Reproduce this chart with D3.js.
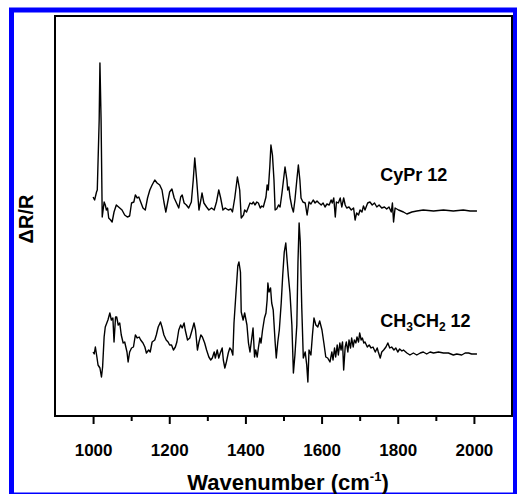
<!DOCTYPE html>
<html>
<head>
<meta charset="utf-8">
<script src="https://cdn.jsdelivr.net/npm/d3@7"></script>
<style>
  body { margin: 0; background: #fff; }
  text { font-family: Arial, "Liberation Sans", sans-serif; font-weight: bold; }
</style>
</head>
<body>
<div id="vis"></div>
<script>
// CyPr 12 trace (wavenumber in cm-1, signal in arbitrary offset units)
var cyprWn = [1000,1004,1009,1011,1016,1018,1021,1024,1029,1032,1035,1038,1041,1046,1050,1055,1061,1070,1076,1083,
  1090,1096,1101,1107,1111,1116,1120,1125,1131,1137,1143,1149,1155,1162,1168,1175,1181,1186,1191,1197,
  1201,1207,1213,1219,1225,1230,1234,1239,1245,1251,1258,1263,1267,1272,1278,1283,1286,1291,1298,1304,
  1311,1318,1324,1330,1335,1341,1347,1355,1362,1366,1372,1379,1385,1389,1395,1398,1403,1408,1412,1417,
  1421,1425,1430,1434,1439,1443,1447,1454,1457,1460,1464,1467,1471,1475,1478,1482,1487,1491,1496,1500,
  1504,1509,1511,1514,1517,1522,1526,1530,1535,1539,1543,1546,1551,1557,1562,1567,1572,1578,1583,1588,
  1593,1599,1604,1609,1614,1620,1625,1628,1632,1636,1639,1644,1649,1653,1658,1662,1666,1672,1678,1684,
  1688,1692,1697,1701,1706,1710,1714,1721,1727,1733,1739,1745,1751,1758,1765,1771,1777,1783,1786,1789,
  1793,1802,1815,1824,1837,1850,1867,1894,1920,1946,1972,1990,2008];
var cyprSig = [21.9,21.6,22.4,22.6,29.6,35.3,29.6,19.9,21.4,21.1,20.6,20.8,19.8,19.6,19.4,20.4,21.1,20.8,20.6,20.1,
  19.9,20.0,21.3,21.4,22.1,21.8,21.9,21.4,20.8,20.6,21.8,22.6,23.1,23.6,23.3,23.1,22.6,21.4,20.4,21.6,
  22.4,22.7,21.8,21.3,20.8,21.9,22.1,21.3,21.1,20.8,21.4,23.6,25.8,23.6,20.6,21.6,22.3,21.3,20.9,20.6,
  20.8,20.6,21.4,22.6,21.8,20.6,20.8,20.6,20.7,20.4,21.8,23.9,22.6,19.8,20.1,20.6,20.4,20.9,21.3,21.2,
  21.4,21.1,21.4,21.3,20.8,21.0,20.9,21.9,23.1,22.6,24.9,27.1,26.1,23.6,20.6,20.7,21.1,20.9,22.3,23.6,
  24.9,23.6,22.6,22.9,21.9,20.9,20.4,21.6,23.6,25.1,23.6,21.8,21.4,21.3,20.1,21.4,21.2,21.6,21.3,21.5,
  21.3,21.1,21.3,20.9,21.2,21.1,21.6,21.3,21.8,19.9,21.4,21.3,21.8,20.9,21.8,21.1,20.8,20.9,20.6,20.8,
  19.6,20.3,20.1,20.6,20.4,21.0,20.6,21.3,21.4,21.1,21.3,20.9,21.1,20.8,20.9,20.7,20.9,20.4,21.3,19.4,
  20.8,20.6,20.4,20.2,20.4,20.5,20.6,20.5,20.6,20.5,20.6,20.5,20.5];

// CH3CH2 12 trace
var ethWn = [1000,1003,1006,1010,1013,1018,1022,1025,1029,1032,1036,1039,1044,1048,1052,1055,1059,1062,1066,1070,
  1074,1079,1083,1089,1092,1096,1101,1106,1111,1116,1121,1125,1131,1136,1140,1146,1150,1155,1162,1166,
  1171,1177,1181,1186,1192,1197,1201,1206,1211,1216,1220,1225,1230,1234,1239,1242,1248,1254,1260,1265,
  1269,1274,1278,1283,1287,1293,1298,1304,1309,1313,1318,1321,1326,1330,1334,1339,1342,1346,1350,1355,
  1359,1363,1367,1370,1374,1377,1380,1383,1387,1389,1394,1398,1404,1408,1412,1417,1420,1424,1427,1431,
  1434,1438,1441,1445,1450,1454,1457,1459,1462,1466,1469,1473,1478,1481,1485,1489,1494,1498,1502,1506,
  1509,1513,1517,1522,1526,1530,1535,1538,1541,1544,1548,1552,1557,1561,1564,1567,1572,1576,1580,1585,
  1590,1595,1601,1606,1611,1616,1622,1627,1630,1634,1637,1641,1644,1648,1651,1655,1658,1662,1665,1669,
  1672,1676,1679,1683,1686,1690,1693,1697,1700,1704,1707,1711,1714,1720,1725,1730,1735,1741,1746,1749,
  1754,1758,1763,1769,1774,1779,1784,1790,1795,1800,1805,1811,1815,1824,1832,1841,1850,1859,1867,1876,
  1885,1894,1907,1920,1933,1946,1955,1968,1977,1986,1994,2008];
var ethSig = [6.4,6.2,6.9,5.9,5.1,4.8,3.9,4.9,7.9,8.9,9.3,9.6,10.3,9.6,9.8,7.4,9.9,9.9,9.1,9.3,
  8.1,7.3,7.4,6.4,5.4,6.4,6.8,6.9,8.1,7.8,7.9,7.6,7.3,6.9,6.3,6.6,6.4,7.4,7.6,8.1,
  8.9,9.4,8.9,8.1,7.6,7.4,7.1,7.1,6.6,6.9,7.4,8.6,9.1,8.8,9.3,8.6,7.6,7.8,8.6,9.3,
  8.6,6.6,7.4,8.1,7.9,7.3,6.6,5.9,5.6,5.8,6.4,5.8,6.6,5.8,6.3,6.8,5.6,4.8,5.4,6.3,
  6.8,6.6,6.1,9.3,11.6,13.3,15.0,15.4,14.4,10.4,9.6,10.3,9.1,7.3,6.4,7.9,8.8,5.9,6.6,5.9,
  6.8,7.8,7.3,8.6,9.8,10.3,11.6,13.3,12.4,12.8,11.3,10.6,7.4,5.8,7.4,8.6,11.3,14.1,16.4,17.3,
  15.8,13.9,12.3,9.1,4.3,6.1,9.1,15.4,19.3,17.4,10.8,5.8,6.4,5.1,3.4,6.6,6.1,8.1,9.8,9.1,
  8.9,9.5,8.6,7.3,5.9,5.8,5.4,6.4,5.6,6.8,5.9,7.1,6.1,7.3,6.6,7.4,4.6,6.9,7.4,6.4,
  7.6,6.8,7.8,6.9,7.6,7.3,7.9,7.4,8.3,7.6,7.8,7.3,7.4,6.9,7.1,6.8,6.9,6.4,6.8,6.4,
  5.8,6.4,6.6,6.9,7.3,6.8,6.9,6.6,6.8,6.4,6.7,6.5,6.6,6.3,6.1,6.3,6.1,6.3,6.4,6.2,
  6.4,6.3,6.4,6.3,6.3,6.1,6.2,6.1,6.3,6.3,6.2,6.2];

var majorTicks = [1000,1200,1400,1600,1800,2000];
var minorTicks = [1100,1300,1500,1700,1900];

var labelNames = ["CyPr 12", "CH3CH2 12"];
var labelPos = [[1754, 23.5], [1754, 8.9]];

var width = 517, height = 494;
var margin = {top: 16, right: 5, bottom: 78, left: 55};

var svg = d3.select('#vis').append('svg')
    .attr('width', width)
    .attr('height', height);

// blue outer frame
svg.append('rect')
    .attr('x', 11.5).attr('y', 10)
    .attr('width', 504).attr('height', 485)
    .attr('fill', 'none')
    .attr('stroke', '#0000ff')
    .attr('stroke-width', 5);

var x = d3.scaleLinear().domain([900, 2100]).range([margin.left, width - margin.right]);
var y = d3.scaleLinear().domain([0, 40]).range([height - margin.bottom, margin.top]);

var line = d3.line()
    .x(function(d){ return x(d[0]); })
    .y(function(d){ return y(d[1]); });

function pairs(a, b){
    var out = [];
    for (var i = 0; i < a.length; i++) out.push([a[i], b[i]]);
    return out;
}

svg.append('path')
    .datum(pairs(cyprWn, cyprSig))
    .attr('d', line)
    .attr('fill', 'none')
    .attr('stroke', '#000')
    .attr('stroke-width', 1.4)
    .attr('stroke-linejoin', 'round');

svg.append('path')
    .datum(pairs(ethWn, ethSig))
    .attr('d', line)
    .attr('fill', 'none')
    .attr('stroke', '#000')
    .attr('stroke-width', 1.4)
    .attr('stroke-linejoin', 'round');

// axis box
svg.append('rect')
    .attr('x', margin.left).attr('y', margin.top)
    .attr('width', width - margin.right - margin.left)
    .attr('height', height - margin.bottom - margin.top)
    .attr('fill', 'none')
    .attr('stroke', '#000')
    .attr('stroke-width', 2);

var xAxis = svg.append('g')
    .attr('transform', 'translate(0,' + (height - margin.bottom) + ')')
    .call(d3.axisBottom(x).tickValues(majorTicks).tickSize(8).tickPadding(20).tickFormat(d3.format('d')));
xAxis.select('.domain').remove();
xAxis.selectAll('line').attr('stroke-width', 2);
xAxis.selectAll('text')
    .style('font-size', '17px')
    .style('font-family', 'Arial, "Liberation Sans", sans-serif')
    .style('font-weight', 'bold')
    .attr('fill', '#000');

var xMinor = svg.append('g')
    .attr('transform', 'translate(0,' + (height - margin.bottom) + ')')
    .call(d3.axisBottom(x).tickValues(minorTicks).tickSize(5).tickFormat(''));
xMinor.select('.domain').remove();
xMinor.selectAll('line').attr('stroke-width', 2);

// x label
var xl = svg.append('text')
    .attr('x', 288).attr('y', 490)
    .attr('text-anchor', 'middle')
    .style('font-size', '22px');
xl.append('tspan').text('Wavenumber (cm');
xl.append('tspan').attr('dy', -9).style('font-size', '13px').text('-1');
xl.append('tspan').attr('dy', 9).text(')');

// y label
svg.append('text')
    .attr('transform', 'translate(33,219) rotate(-90)')
    .attr('text-anchor', 'middle')
    .style('font-size', '20px')
    .text('\u0394R/R');

// series labels
svg.append('text')
    .attr('x', x(labelPos[0][0])).attr('y', y(labelPos[0][1]))
    .style('font-size', '18px')
    .text(labelNames[0]);

var l2 = svg.append('text')
    .attr('x', x(labelPos[1][0])).attr('y', y(labelPos[1][1]))
    .style('font-size', '18px');
l2.append('tspan').text('CH');
l2.append('tspan').attr('dy', 4).style('font-size', '12px').text('3');
l2.append('tspan').attr('dy', -4).text('CH');
l2.append('tspan').attr('dy', 4).style('font-size', '12px').text('2');
l2.append('tspan').attr('dy', -4).text(' 12');
</script>
</body>
</html>
